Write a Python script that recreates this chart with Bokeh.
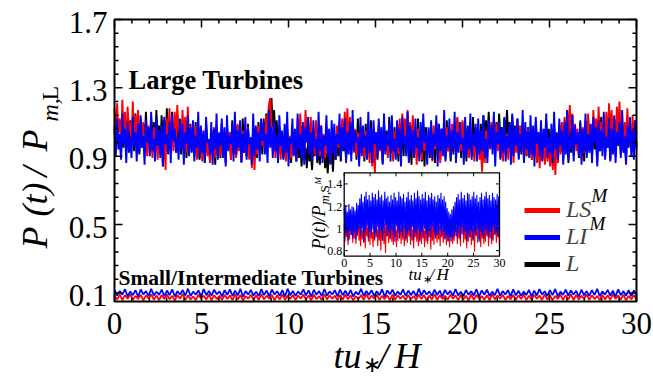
import numpy as np
from bokeh.plotting import figure
from bokeh.models import Range1d, Label, Legend, LegendItem
from bokeh.embed import file_html
from bokeh.resources import INLINE
from bokeh.core.properties import value

# ---------------- data ----------------
# Large turbines, P(t)/P_m,L in hundredths, evenly sampled over tu*/H = 0..30
large_L = [106,94,110,97,102,90,108,95,113,99,104,92,111,96,107,93,115,98,105,91,
           112,97,109,94,116,100,106,92,113,98,110,95,117,101,108,93,114,99,111,96,
           118,100,112,95,116,98,109,93,114,97,105,91,111,94,107,89,103,95,109,92,
           104,90,110,93,101,88,107,95,102,86,108,92,99,87,105,94,100,85,106,91,
           103,89,109,93,100,86,107,95,104,88,111,92,102,90,108,94,105,87,112,96,
           104,90,109,94,101,88,107,93,103,89,110,95,106,91,112,97,115,100,119,104,
           124,107,117,100,111,95,106,91,104,89,102,88,106,92,100,86,104,91,99,87,
           102,89,97,84,100,88,95,83,99,87,94,82,98,90,103,86,96,85,101,89,
           95,83,92,80,97,86,93,81,99,88,104,90,101,87,106,93,100,89,108,94,
           103,91,110,96,105,88,112,94,107,92,101,87,109,95,104,90,111,93,106,89,
           102,88,108,95,100,86,110,93,105,90,113,97,103,89,107,94,101,87,109,92,
           104,90,111,96,106,88,100,85,108,93,103,91,112,95,105,87,99,84,107,92,
           101,89,109,94,104,86,110,92,100,88,106,95,102,90,111,93,105,87,108,91,
           103,94,112,97,106,89,110,95,101,87,108,92,104,90,113,96,107,88,102,93,
           109,95,114,99,111,96,116,101,108,94,113,98,110,97,115,100,107,93,112,99,
           117,101,110,96,114,99,108,93,112,97,106,91,109,95,104,90,107,94,102,88,
           105,92,110,95,101,87,108,93,103,90,111,96,106,89,100,86,107,94,104,91,
           109,93,102,88,106,95,100,86,111,92,105,90,108,97,103,89,110,94,101,87,
           106,92,112,96,104,89,109,94,101,86,107,93,113,97,105,90,110,95,102,88,
           108,94,103,90,111,96,105,91,109,93,100,87,107,95,112,98,104,92,110,96]
large_LS = [118,99,121,104,112,96,123,101,116,94,119,105,110,97,122,100,114,93,117,102,
            106,95,110,92,104,90,108,97,103,89,107,94,101,88,105,92,99,84,103,82,
            112,96,118,101,109,93,116,99,120,104,111,95,117,98,113,92,119,100,108,94,
            104,91,108,88,101,94,106,87,103,92,109,90,100,86,105,93,107,89,102,95,
            103,90,107,92,100,87,108,94,104,88,106,91,99,89,109,93,101,87,105,92,
            104,90,107,88,101,83,105,82,100,91,108,94,111,96,106,92,114,99,120,124,
            108,93,105,89,101,94,107,88,103,92,99,87,106,94,102,89,105,91,100,88,
            112,95,115,99,108,93,117,101,110,94,113,97,106,91,111,95,104,90,108,93,
            103,89,107,92,100,86,105,94,102,88,108,95,106,91,112,97,116,99,118,96,
            113,95,109,92,106,90,104,88,107,93,102,89,105,91,100,86,103,84,99,80,
            104,90,107,93,101,88,106,94,103,89,108,92,100,87,105,95,109,91,112,96,
            115,98,112,95,117,100,110,93,114,97,101,85,106,90,103,88,107,93,102,89,
            105,91,101,87,108,94,103,89,100,86,106,92,102,88,107,93,104,90,109,95,
            110,96,113,98,108,93,111,97,106,91,104,89,107,94,101,87,105,92,103,88,
            96,81,102,86,105,90,108,94,110,96,112,97,109,93,104,89,101,87,106,91,
            103,88,107,93,100,86,105,92,102,89,108,94,101,87,104,91,106,90,100,88,
            103,90,99,86,104,83,101,88,98,85,102,87,100,84,97,82,99,79,101,86,
            106,91,110,95,113,98,117,101,120,104,115,97,109,93,106,90,104,88,107,92,
            111,95,115,99,108,93,117,100,112,96,119,102,110,94,114,98,116,97,121,103,
            117,99,112,95,119,104,122,100,115,93,110,97,118,101,108,94,114,98,111,103]
large_LI = [108,90,112,94,103,88,115,97,106,86,110,93,101,89,113,96,104,87,109,92,
            114,95,102,85,111,98,107,90,116,93,100,87,112,96,105,89,108,84,113,97,
            103,91,110,86,115,99,106,92,101,88,112,94,109,85,104,97,114,90,107,93,
            111,87,102,95,116,89,108,92,105,86,113,98,100,91,110,85,106,94,115,88,
            104,96,112,89,107,84,114,93,102,97,109,87,116,91,105,95,111,86,103,92,
            113,88,106,97,101,85,115,90,108,94,104,87,112,99,110,91,103,86,117,95,
            107,89,111,93,102,86,114,96,105,88,109,92,116,84,101,97,112,90,106,87,
            115,94,103,89,110,85,107,98,113,91,104,87,111,95,100,88,116,93,108,86,
            102,96,114,90,106,85,111,92,109,88,103,97,115,89,107,94,112,86,104,91,
            110,87,117,93,105,98,101,84,113,90,108,95,102,88,116,92,106,86,111,97,
            104,89,112,94,107,85,115,91,103,96,109,87,114,93,100,88,111,95,106,84,
            113,97,102,90,116,86,108,93,105,89,112,95,101,87,110,92,115,98,104,85,
            107,91,111,88,103,96,114,84,109,93,106,90,117,87,102,95,112,89,105,94,
            116,86,104,92,110,97,101,85,113,90,107,94,115,88,103,96,109,87,112,91,
            105,93,114,89,100,86,111,95,108,91,116,84,104,97,110,88,106,92,113,87,
            102,95,109,85,115,90,107,96,112,88,103,93,117,86,110,94,105,89,114,91,
            108,84,113,97,104,90,111,87,106,95,115,89,101,92,109,86,116,94,103,88,
            112,96,105,85,110,91,117,88,102,94,114,87,108,97,104,90,111,85,106,93,
            115,89,103,92,109,86,113,98,107,84,111,93,105,90,116,88,101,95,112,87,
            106,91,114,86,104,97,110,89,117,92,102,85,108,96,113,90,105,88,111,94]
# Small/intermediate turbines, in thousandths
small_LS = [84,62,90,58,87,66,93,60,82,64,89,57,86,68,92,61,85,59,88,65,
            91,63,83,56,88,67,94,60,86,62,81,58,90,66,84,61,92,57,87,64,
            83,60,89,65,85,58,93,62,88,56,82,67,90,61,86,59,94,63,84,66,
            89,57,87,62,92,60,83,65,88,58,85,68,91,61,86,56,90,64,82,59,
            93,62,87,66,84,58,89,61,92,63,86,57,81,65,88,60,94,62,85,67,
            90,59,83,64,87,56,92,61,86,66,84,58,89,63,82,60,91,65,88,57,
            85,62,93,59,87,64,83,61,90,67,86,58,88,63,84,56,92,60,89,65,
            82,61,87,57,94,62,85,66,90,59,83,63,88,60,86,64,91,58,84,62,
            89,66,85,59,92,61,87,57,83,65,90,60,86,63,93,58,88,62,84,67,
            91,60,86,64,82,58,89,62,87,59,94,65,85,61,90,57,83,63,88,60]
small_LI = [118,84,112,90,122,80,109,87,116,78,120,92,111,83,124,86,107,89,119,81,
            114,88,121,79,110,91,117,85,125,82,108,90,115,77,123,87,112,84,119,92,
            109,80,116,89,121,83,113,86,124,78,111,90,118,85,107,82,122,88,114,80,
            120,91,110,84,117,79,125,87,112,83,108,90,121,86,115,78,119,89,111,82,
            123,85,109,91,116,80,120,87,113,84,118,79,107,90,124,83,112,88,117,81,
            110,86,122,78,115,92,119,84,108,89,121,82,114,87,111,80,125,85,116,90,
            109,83,120,88,113,79,118,91,112,84,123,86,107,81,117,89,110,85,122,78,
            115,90,119,82,108,87,124,84,111,91,116,80,121,86,113,83,109,88,118,79,
            114,85,122,90,110,82,117,87,123,80,108,89,120,84,115,91,112,78,119,86,
            111,83,116,88,124,81,109,90,118,85,113,79,121,87,110,84,117,82,115,89]
# Inset, P(t)/P_m,S^M in hundredths
inset_LS = [104,88,109,92,101,85,107,90,112,94,103,87,108,91,100,86,106,93,110,89,
            102,84,108,90,99,87,105,82,110,93,101,88,107,85,103,91,97,83,106,89,
            109,92,100,84,106,89,103,80,108,91,98,86,104,78,111,93,101,87,105,90,
            107,88,102,85,110,92,99,83,105,89,112,94,100,86,108,90,103,84,106,91,
            101,87,109,93,104,85,107,89,99,82,111,92,102,88,106,84,100,90,108,86,
            105,91,98,83,110,88,103,86,107,92,100,81,109,89,104,85,106,93,101,87,
            108,90,102,84,111,94,99,87,106,91,103,85,109,88,100,83,105,92,107,86,
            104,89,110,93,101,86,107,91,98,84,112,95,103,87,108,90,100,82,106,88,
            109,92,103,85,106,89,100,79,111,94,102,87,108,90,104,83,107,91,99,86,
            105,88,110,93,102,84,108,91,100,86,106,89,112,95,103,87,109,92,101,85]
inset_LI = [118,92,121,96,115,89,122,98,117,94,120,91,119,97,116,90,123,95,121,99,
            127,93,131,100,124,88,129,96,133,102,126,91,130,97,125,94,132,99,128,90,
            131,95,126,101,134,92,128,98,130,89,125,96,133,103,127,93,129,97,124,91,
            130,99,126,94,132,88,128,102,125,96,133,91,129,97,127,93,131,100,124,89,
            128,95,133,98,126,92,130,101,125,90,132,96,127,94,134,99,129,88,126,97,
            131,93,127,100,133,95,125,89,130,98,128,92,132,102,126,96,129,91,124,94,
            130,95,127,99,132,92,126,97,129,90,124,94,118,89,115,92,113,88,117,91,
            120,93,124,97,128,92,131,96,126,90,133,101,127,94,130,97,125,89,132,95,
            131,92,126,98,129,90,133,96,127,93,130,100,124,88,128,97,132,94,126,91,
            129,99,133,95,127,92,130,97,125,90,132,101,128,94,126,96,131,93,129,98]

x_ticks = [0, 5, 10, 15, 20, 25, 30]
x_tick_labels = ["0", "5", "10", "15", "20", "25", "30"]
x_minor = [1, 2, 3, 4, 6, 7, 8, 9, 11, 12, 13, 14, 16, 17, 18, 19, 21, 22, 23, 24, 26, 27, 28, 29]
y_ticks = [0.1, 0.5, 0.9, 1.3, 1.7]
y_tick_labels = ["0.1", "0.5", "0.9", "1.3", "1.7"]
y_minor = [0.18, 0.26, 0.34, 0.42, 0.58, 0.66, 0.74, 0.82, 0.98, 1.06, 1.14, 1.22, 1.38, 1.46, 1.54, 1.62]
inset_x_ticks = [0, 5, 10, 15, 20, 25, 30]
inset_x_labels = ["0", "5", "10", "15", "20", "25", "30"]
inset_y_ticks = [0.8, 1.0, 1.2, 1.4]
inset_y_labels = ["0.8", "1", "1.2", "1.4"]
legend_labels = ["LS", "LI", "L"]

X_LIM = (0, 30)
Y_LIM = (0.05, 1.7)
INSET_X = (0, 30)
INSET_Y = (0.75, 1.5)

RED, BLUE, BLACK = "#ff0000", "#0000ff", "#000000"
SERIF = "Liberation Serif"

# ---------------- layout (canvas px) ----------------
W, H = 653, 381
FL, FR, FT, FB = 114, 636, 19, 301            # main axes box
IL, IR, IT, IB = 343.7, 499.0, 172.3, 255.7   # inset axes box

xs = (X_LIM[1] - X_LIM[0]) / (FR - FL)
ys = (Y_LIM[1] - Y_LIM[0]) / (FB - FT)
p = figure(width=W, height=H, output_backend="svg", toolbar_location=None, title=None,
           x_range=Range1d(X_LIM[0] - FL * xs, X_LIM[1] + (W - FR) * xs),
           y_range=Range1d(Y_LIM[0] - (H - FB) * ys, Y_LIM[1] + FT * ys),
           x_axis_type=None, y_axis_type=None, min_border=0)
p.outline_line_color = None
p.background_fill_color = "white"
p.border_fill_color = "white"
p.grid.visible = False

# ---------------- main traces ----------------
def tgrid(vals, lim):
    return np.linspace(lim[0], lim[1], len(vals))

LW = 1.9
p.line(tgrid(large_L, X_LIM), np.array(large_L) / 100.0, line_color=BLACK, line_width=LW)
p.line(tgrid(large_LS, X_LIM), np.array(large_LS) / 100.0, line_color=RED, line_width=LW)
p.line(tgrid(large_LI, X_LIM), np.array(large_LI) / 100.0, line_color=BLUE, line_width=LW)
p.line(tgrid(small_LS, X_LIM), np.array(small_LS) / 1000.0, line_color=RED, line_width=1.8)
p.line(tgrid(small_LI, X_LIM), np.array(small_LI) / 1000.0, line_color=BLUE, line_width=1.8)

# ---------------- axes boxes with inward ticks ----------------
def box_and_ticks(xlim, ylim, xt, yt, xmin, ymin, sx, sy, major, minor, lw, **kw):
    p.quad(left=[xlim[0]], right=[xlim[1]], bottom=[ylim[0]], top=[ylim[1]],
           fill_color=None, line_color="black", line_width=lw, **kw)
    for ticks, ln in ((xt, major), (xmin, minor)):
        k = len(ticks)
        if k == 0:
            continue
        p.segment(x0=ticks, y0=[ylim[0]] * k, x1=ticks, y1=[ylim[0] + ln * sy] * k,
                  line_color="black", line_width=lw * 0.75, **kw)
        p.segment(x0=ticks, y0=[ylim[1]] * k, x1=ticks, y1=[ylim[1] - ln * sy] * k,
                  line_color="black", line_width=lw * 0.75, **kw)
    for ticks, ln in ((yt, major), (ymin, minor)):
        k = len(ticks)
        if k == 0:
            continue
        p.segment(x0=[xlim[0]] * k, y0=ticks, x1=[xlim[0] + ln * sx] * k, y1=ticks,
                  line_color="black", line_width=lw * 0.75, **kw)
        p.segment(x0=[xlim[1]] * k, y0=ticks, x1=[xlim[1] - ln * sx] * k, y1=ticks,
                  line_color="black", line_width=lw * 0.75, **kw)

box_and_ticks(X_LIM, Y_LIM, x_ticks, y_ticks, x_minor, y_minor, xs, ys, 8, 4, 2)
p.text(x=x_ticks, y=[Y_LIM[0]] * len(x_ticks), text=x_tick_labels, y_offset=21.5,
       text_font=value(SERIF), text_font_size=value("31px"), text_align="center",
       text_baseline="middle", text_color="black")
p.text(x=[X_LIM[0]] * len(y_ticks), y=y_ticks, text=y_tick_labels, x_offset=-7, y_offset=2.5,
       text_font=value(SERIF), text_font_size=value("31px"), text_align="right",
       text_baseline="middle", text_color="black")

# ---------------- inset via extra ranges ----------------
ixs = (INSET_X[1] - INSET_X[0]) / (IR - IL)
iys = (INSET_Y[1] - INSET_Y[0]) / (IB - IT)
p.extra_x_ranges = {"ix": Range1d(INSET_X[0] - IL * ixs, INSET_X[1] + (W - IR) * ixs)}
p.extra_y_ranges = {"iy": Range1d(INSET_Y[0] - (H - IB) * iys, INSET_Y[1] + IT * iys)}
kw = dict(x_range_name="ix", y_range_name="iy")

p.quad(left=[INSET_X[0]], right=[INSET_X[1]], bottom=[INSET_Y[0]], top=[INSET_Y[1]],
       fill_color="white", line_color=None, **kw)
p.line(tgrid(inset_LS, INSET_X), np.array(inset_LS) / 100.0, line_color=RED, line_width=1.1, **kw)
p.line(tgrid(inset_LI, INSET_X), np.array(inset_LI) / 100.0, line_color=BLUE, line_width=1.1, **kw)
box_and_ticks(INSET_X, INSET_Y, inset_x_ticks, inset_y_ticks, [], [], ixs, iys, 3.5, 2, 1.3, **kw)
p.text(x=inset_x_ticks, y=[INSET_Y[0]] * len(inset_x_ticks), text=inset_x_labels, y_offset=7,
       text_font=value(SERIF), text_font_size=value("12px"), text_align="center",
       text_baseline="middle", text_color="black", **kw)
p.text(x=[INSET_X[0]] * len(inset_y_ticks), y=inset_y_ticks, text=inset_y_labels, x_offset=-2,
       y_offset=0.5, text_font=value(SERIF), text_font_size=value("12px"), text_align="right",
       text_baseline="middle", text_color="black", **kw)

# ---------------- free texts (screen units = canvas px from bottom-left) ----------------
def lab(text, cx, cy, size, style="normal", angle=0.0, align="left"):
    # (cx, cy): start of the text and its vertical middle, in canvas px from top-left
    p.add_layout(Label(x=cx, y=H - cy, x_units="screen", y_units="screen", text=text,
                       angle=angle, text_font=SERIF, text_font_size=f"{size}px",
                       text_font_style=style, text_align=align, text_baseline="middle",
                       text_color="black"))

ROT = np.pi / 2
# main y label  P(t)/P_{m,L}
lab("P", 34, 248, 36, "italic", ROT)
lab("(t)", 34, 216, 36, "italic", ROT)
lab("/", 34, 176, 36, "italic", ROT)
lab("P", 34, 151, 36, "italic", ROT)
lab("m,", 49, 121, 24, "italic", ROT)
lab("L", 49, 100, 24, "normal", ROT)
# main x label  tu_*/H
lab("tu", 333, 355, 36, "italic")
lab("\u2217", 362, 364, 22, "normal")
lab("/", 378, 355, 36, "italic")
lab("H", 394, 355, 36, "italic")
# panel texts
lab("Large Turbines", 128, 79.5, 26.5, "bold")
lab("Small/Intermediate Turbines", 118, 277.5, 21.5, "bold")
# inset y label  P(t)/P_{m,S^M}
lab("P(t)/P", 318.5, 249, 18, "italic", ROT)
lab("m,", 323.5, 204, 13, "italic", ROT)
lab("S", 323.5, 192, 13, "normal", ROT)
lab("M", 317, 184, 9, "italic", ROT)
# inset x label  tu_*/H
lab("tu", 408, 274, 17, "italic")
lab("\u2217", 422, 278, 11, "normal")
lab("/", 429, 274, 17, "italic")
lab("H", 436, 274, 17, "italic")

# ---------------- legend ----------------
lg_LS = p.line(np.array([np.nan]), np.array([np.nan]), line_color=RED, line_width=5)
lg_LI = p.line(np.array([np.nan]), np.array([np.nan]), line_color=BLUE, line_width=5)
lg_L = p.line(np.array([np.nan]), np.array([np.nan]), line_color=BLACK, line_width=5)
legend = Legend(items=[LegendItem(label=legend_labels[0], renderers=[lg_LS]),
                       LegendItem(label=legend_labels[1], renderers=[lg_LI]),
                       LegendItem(label=legend_labels[2], renderers=[lg_L])],
                location=(524, H - 277), orientation="vertical",
                glyph_width=36, glyph_height=22, label_height=22, label_standoff=6,
                spacing=0, padding=0, margin=0, border_line_color=None,
                background_fill_alpha=0, label_text_font=SERIF,
                label_text_font_style="italic", label_text_font_size="24px")
p.add_layout(legend, "center")
lab("M", 591, 195, 19, "italic")
lab("M", 589, 223, 19, "italic")

open("out.html", "w").write(file_html(p, INLINE))
